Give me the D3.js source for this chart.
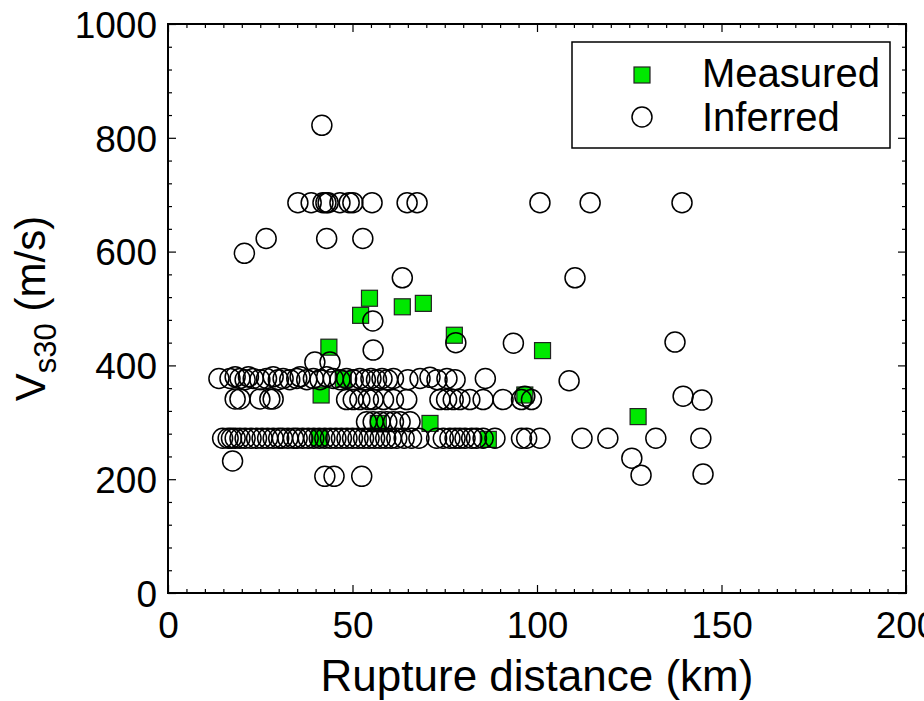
<!DOCTYPE html>
<html>
<head>
<meta charset="utf-8">
<script src="https://cdn.jsdelivr.net/npm/d3@7"></script>
<style>
  html, body { margin: 0; padding: 0; background: #fff; }
  svg text { font-family: "Liberation Sans", Arial, Helvetica, sans-serif; fill: #000; }
</style>
</head>
<body>
<svg id="chart" width="924" height="701"></svg>
<script>
// Rupture distance (km) vs Vs30 (m/s) for each recording station
const measured = [
  [43.6, 432], [52.2, 488], [54.6, 518], [63.5, 503], [69.2, 509],
  [77.6, 453], [101.5, 426], [96.7, 348], [127.4, 310], [71.0, 298],
  [57.0, 298], [86.8, 270], [41.5, 348], [47.5, 376], [41.0, 272]
];

const inferred = [
  // ~375 m/s band
  [13.8, 377], [16.8, 377], [18.2, 380], [19.5, 377], [20.9, 375], [21.8, 380],
  [23.1, 377], [24.9, 375], [26.7, 377], [28.5, 380], [29.9, 375], [31.2, 377],
  [33.0, 375], [34.9, 377], [35.8, 380], [37.6, 375], [39.4, 377], [41.2, 375],
  [43.0, 380], [44.8, 377], [46.6, 375], [48.4, 377], [50.2, 375], [52.0, 377],
  [53.5, 375], [55.0, 377], [56.5, 375], [58.0, 377], [59.5, 375], [61.1, 377],
  [65.0, 375], [68.3, 377], [71.0, 379], [72.9, 375], [75.6, 377], [77.8, 375],
  [86.0, 377], [108.7, 373],
  // ~270 m/s band
  [14.8, 272], [16.3, 272], [17.2, 272], [18.2, 272], [19.5, 272], [20.9, 272],
  [22.5, 272], [24.0, 272], [25.5, 272], [27.0, 272], [28.5, 272], [30.0, 272],
  [31.0, 272], [32.5, 272], [34.0, 272], [35.0, 272], [36.5, 272], [38.0, 272],
  [39.5, 272], [41.0, 272], [42.5, 272], [44.0, 272], [45.5, 272], [47.0, 272],
  [48.5, 272], [50.0, 272], [51.5, 272], [53.0, 272], [54.5, 272], [56.0, 272],
  [57.5, 272], [59.0, 272], [60.5, 272], [62.0, 272], [64.0, 272], [66.0, 272],
  [68.0, 272], [72.8, 272], [74.6, 272], [76.4, 272], [77.8, 272], [79.1, 272],
  [80.5, 272], [82.3, 272], [83.6, 272], [85.4, 272], [88.6, 272], [95.8, 272],
  [97.2, 272], [100.8, 272], [112.2, 272], [119.2, 272], [132.2, 272], [144.4, 272],
  // ~340 m/s band
  [18.2, 341], [19.5, 341], [24.9, 341], [27.6, 341], [28.5, 341], [48.4, 340],
  [50.2, 340], [52.0, 340], [54.3, 340], [55.6, 340], [58.4, 340], [61.1, 340],
  [64.7, 340], [73.7, 340], [75.5, 340], [77.3, 340], [79.1, 340], [81.8, 340],
  [85.4, 340], [90.8, 340], [95.8, 340], [98.5, 340], [96.7, 346], [139.6, 346],
  [144.7, 339],
  // ~300 m/s band
  [53.8, 301], [55.6, 301], [57.5, 301], [59.3, 301], [61.1, 301], [62.9, 301],
  [65.6, 301],
  // scattered stations
  [39.8, 406], [43.9, 406], [17.5, 232], [42.5, 205], [45.0, 205], [52.5, 205],
  [125.7, 237], [128.2, 207], [145.0, 209], [55.6, 427], [55.5, 478], [63.5, 554],
  [110.3, 554], [78.0, 440], [93.6, 439], [137.4, 441],
  [20.7, 597], [26.6, 623], [43.0, 623], [52.8, 623], [41.7, 822],
  // ~686 m/s band
  [35.2, 686], [38.8, 686], [42.0, 686], [42.8, 686], [43.4, 686], [46.6, 686],
  [49.1, 686], [50.1, 686], [55.3, 686], [64.8, 686], [67.5, 686], [100.8, 686],
  [114.4, 686], [139.3, 686]
];

const xMajorTicks = [0, 50, 100, 150, 200];
const yMajorTicks = [0, 200, 400, 600, 800, 1000];
const xDomain = [0, 200];
const yDomain = [0, 1000];
const legendLabels = ["Measured", "Inferred"];

const svg = d3.select("#chart");
const plot = { left: 168, right: 906, top: 24, bottom: 593 };

const x = d3.scaleLinear().domain(xDomain).range([plot.left, plot.right]);
const y = d3.scaleLinear().domain(yDomain).range([plot.bottom, plot.top]);

const xMinor = d3.range(0, 201, 5).filter(v => v % 50 !== 0);
const yMinor = d3.range(0, 1001, 40).filter(v => v % 200 !== 0);

function styleAxis(g) {
  g.select(".domain").remove();
  g.selectAll("line").attr("stroke", "#000").attr("stroke-width", 1.2);
  g.selectAll("text").attr("font-size", 37).attr("fill", "#000");
}

// bottom axis with labels
svg.append("g").attr("transform", `translate(0,${plot.bottom})`)
  .call(d3.axisBottom(x).tickValues(xMajorTicks).tickFormat(d3.format("d")).tickSize(-8).tickPadding(14))
  .call(styleAxis)
  .call(g => g.selectAll("text").attr("dy", "0.71em").attr("y", 19));
svg.append("g").attr("transform", `translate(0,${plot.bottom})`)
  .call(d3.axisBottom(x).tickValues(xMinor).tickFormat("").tickSize(-4))
  .call(styleAxis);
// top axis
svg.append("g").attr("transform", `translate(0,${plot.top})`)
  .call(d3.axisTop(x).tickValues(xMajorTicks).tickFormat("").tickSize(-8))
  .call(styleAxis);
svg.append("g").attr("transform", `translate(0,${plot.top})`)
  .call(d3.axisTop(x).tickValues(xMinor).tickFormat("").tickSize(-4))
  .call(styleAxis);
// left axis with labels
svg.append("g").attr("transform", `translate(${plot.left},0)`)
  .call(d3.axisLeft(y).tickValues(yMajorTicks).tickFormat(d3.format("d")).tickSize(-8).tickPadding(11))
  .call(styleAxis)
  .call(g => g.selectAll("text").attr("dy", "0.36em"));
svg.append("g").attr("transform", `translate(${plot.left},0)`)
  .call(d3.axisLeft(y).tickValues(yMinor).tickFormat("").tickSize(-4))
  .call(styleAxis);
// right axis
svg.append("g").attr("transform", `translate(${plot.right},0)`)
  .call(d3.axisRight(y).tickValues(yMajorTicks).tickFormat("").tickSize(-8))
  .call(styleAxis);
svg.append("g").attr("transform", `translate(${plot.right},0)`)
  .call(d3.axisRight(y).tickValues(yMinor).tickFormat("").tickSize(-4))
  .call(styleAxis);

// frame
svg.append("rect")
  .attr("x", plot.left).attr("y", plot.top)
  .attr("width", plot.right - plot.left).attr("height", plot.bottom - plot.top)
  .attr("fill", "none").attr("stroke", "#000").attr("stroke-width", 2);

const sq = 16;
const green = "#00e800";

// measured stations (squares)
svg.append("g").selectAll("rect")
  .data(measured).join("rect")
  .attr("x", d => x(d[0]) - sq / 2).attr("y", d => y(d[1]) - sq / 2)
  .attr("width", sq).attr("height", sq)
  .attr("fill", green).attr("stroke", "#222").attr("stroke-width", 1.2);

// inferred stations (open circles)
svg.append("g").selectAll("circle")
  .data(inferred).join("circle")
  .attr("cx", d => x(d[0])).attr("cy", d => y(d[1]))
  .attr("r", 10)
  .attr("fill", "none").attr("stroke", "#000").attr("stroke-width", 1.5);

// axis titles
svg.append("text")
  .attr("x", (plot.left + plot.right) / 2).attr("y", 691)
  .attr("text-anchor", "middle").attr("font-size", 44)
  .text("Rupture distance (km)");

const yTitle = svg.append("text")
  .attr("transform", `translate(45,${(plot.top + plot.bottom) / 2}) rotate(-90)`)
  .attr("text-anchor", "middle").attr("font-size", 42);
yTitle.append("tspan").text("V");
yTitle.append("tspan").attr("font-size", 31).attr("dy", 11).text("s30");
yTitle.append("tspan").attr("dy", -11).text(" (m/s)");

// legend
const lg = svg.append("g");
lg.append("rect")
  .attr("x", 572).attr("y", 42).attr("width", 318).attr("height", 106)
  .attr("fill", "#fff").attr("stroke", "#000").attr("stroke-width", 1.5);
lg.append("rect")
  .attr("x", 642 - sq / 2).attr("y", 75 - sq / 2).attr("width", sq).attr("height", sq)
  .attr("fill", green).attr("stroke", "#222").attr("stroke-width", 1.2);
lg.append("circle")
  .attr("cx", 642).attr("cy", 117).attr("r", 10)
  .attr("fill", "none").attr("stroke", "#000").attr("stroke-width", 1.5);
lg.append("text").attr("x", 702).attr("y", 87).attr("font-size", 40).text(legendLabels[0]);
lg.append("text").attr("x", 702).attr("y", 131).attr("font-size", 40).text(legendLabels[1]);
</script>
</body>
</html>
